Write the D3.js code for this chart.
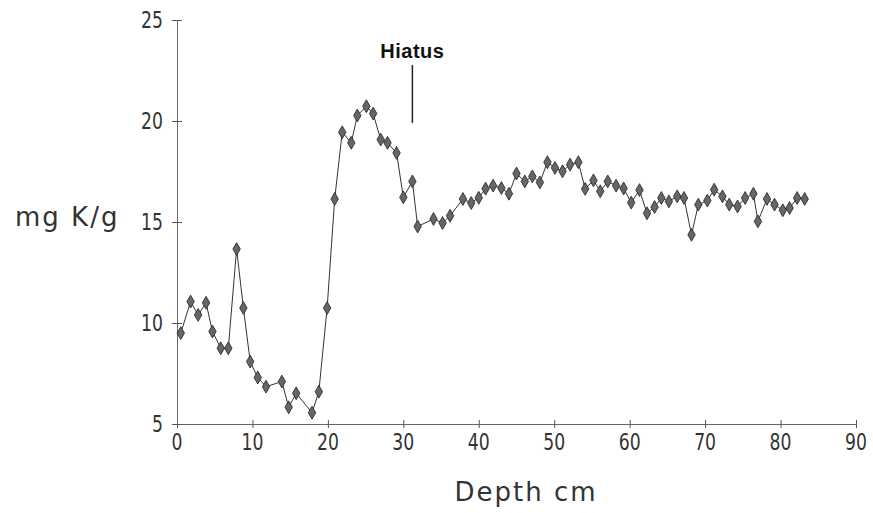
<!DOCTYPE html>
<html>
<head>
<meta charset="utf-8">
<script src="https://cdn.jsdelivr.net/npm/d3@7"></script>
<style>
  body { margin: 0; background: #fff; }
  svg text { fill: #333; }
</style>
</head>
<body>
<svg id="chart" width="873" height="513"></svg>
<script>
// depth (cm) and potassium (mg K/g)
const depths = [0.5, 1.8, 2.8, 3.85, 4.7, 5.8, 6.8, 7.9, 8.8, 9.7,
    10.7, 11.8, 13.9, 14.8, 15.8, 17.9, 18.8, 19.9, 20.9, 21.9,
    23.1, 23.9, 25.1, 26.0, 27.0, 27.9, 29.1, 30.0, 31.2, 31.9,
    34.0, 35.2, 36.2, 37.9, 39.0, 40.0, 40.9, 41.9, 43.0, 44.0,
    45.0, 46.1, 47.1, 48.1, 49.1, 50.1, 51.1, 52.1, 53.2, 54.1,
    55.2, 56.1, 57.1, 58.2, 59.2, 60.2, 61.3, 62.3, 63.3, 64.2,
    65.2, 66.3, 67.2, 68.2, 69.1, 70.3, 71.2, 72.3, 73.2, 74.3,
    75.3, 76.4, 77.0, 78.2, 79.2, 80.3, 81.2, 82.2, 83.2];
const potassium = [9.5, 11.06, 10.4, 11.0, 9.58, 8.75, 8.75, 13.66, 10.74, 8.09,
    7.3, 6.85, 7.1, 5.83, 6.52, 5.56, 6.6, 10.74, 16.14, 19.44,
    18.92, 20.27, 20.73, 20.37, 19.08, 18.92, 18.42, 16.22, 17.01, 14.78,
    15.15, 14.95, 15.31, 16.14, 15.94, 16.2, 16.65, 16.8, 16.68, 16.4,
    17.4, 17.01, 17.26, 16.96, 17.96, 17.68, 17.51, 17.84, 17.96, 16.64,
    17.06, 16.52, 17.01, 16.8, 16.66, 15.96, 16.58, 15.43, 15.74, 16.19,
    16.02, 16.27, 16.19, 14.37, 15.86, 16.06, 16.6, 16.27, 15.86, 15.77,
    16.19, 16.4, 15.03, 16.14, 15.86, 15.58, 15.69, 16.19, 16.14];
const xTicks = [0, 10, 20, 30, 40, 50, 60, 70, 80, 90];
const yTicks = [5, 10, 15, 20, 25];
const hiatusDepth = 31.2;

const svg = d3.select("#chart");
const x = d3.scaleLinear().domain([0, 90]).range([177, 856]);
const y = d3.scaleLinear().domain([5, 25]).range([424, 20]);

const labelFont = "'DejaVu Sans', sans-serif";

// axes - ticks cross the line on both sides
const xAxis = svg.append("g").attr("transform", `translate(0,${y(5)})`)
    .call(d3.axisBottom(x).tickValues(xTicks).tickSize(0).tickFormat(""));
const yAxis = svg.append("g").attr("transform", `translate(${x(0)},0)`)
    .call(d3.axisLeft(y).tickValues(yTicks).tickSize(0).tickFormat(""));
svg.selectAll(".domain").attr("stroke", "#666").attr("stroke-width", 1);

xAxis.selectAll(".tick").append("line")
    .attr("y1", -4).attr("y2", 4).attr("stroke", "#555");
yAxis.selectAll(".tick").append("line")
    .attr("x1", -5).attr("x2", 5).attr("stroke", "#555");

// narrow, tall digits like the old plotter font
svg.append("g").selectAll("text").data(xTicks).join("text")
    .attr("transform", d => `translate(${x(d)},450) scale(0.75,1)`)
    .attr("text-anchor", "middle")
    .style("font", `23px ${labelFont}`)
    .text(d => d);

svg.append("g").selectAll("text").data(yTicks).join("text")
    .attr("transform", d => `translate(163,${y(d) + 8}) scale(0.75,1)`)
    .attr("text-anchor", "end")
    .style("font", `23px ${labelFont}`)
    .text(d => d);

svg.append("text").attr("x", 526).attr("y", 501)
    .attr("text-anchor", "middle")
    .style("font", `26px ${labelFont}`)
    .style("letter-spacing", "2px")
    .text("Depth cm");

svg.append("text").attr("x", 15).attr("y", 226)
    .style("font", `26px ${labelFont}`)
    .style("letter-spacing", "2px")
    .text("mg K/g");

// hiatus marker
svg.append("line")
    .attr("x1", x(hiatusDepth)).attr("x2", x(hiatusDepth))
    .attr("y1", 65).attr("y2", 123)
    .attr("stroke", "#222").attr("stroke-width", 1.5);
svg.append("text").attr("x", x(hiatusDepth)).attr("y", 58)
    .attr("text-anchor", "middle")
    .style("font", "bold 20px 'Liberation Sans', Arial, sans-serif")
    .style("letter-spacing", "0.5px")
    .style("fill", "#111")
    .text("Hiatus");

// series
const pts = depths.map((d, i) => [d, potassium[i]]);
svg.append("path").datum(pts)
    .attr("fill", "none").attr("stroke", "#333").attr("stroke-width", 1)
    .attr("d", d3.line().x(d => x(d[0])).y(d => y(d[1])));

svg.append("g").selectAll("path").data(pts).join("path")
    .attr("transform", d => `translate(${x(d[0])},${y(d[1])})`)
    .attr("d", d3.symbol(d3.symbolDiamond, 48))
    .attr("fill", "#666").attr("stroke", "#222").attr("stroke-width", 0.8);
</script>
</body>
</html>
